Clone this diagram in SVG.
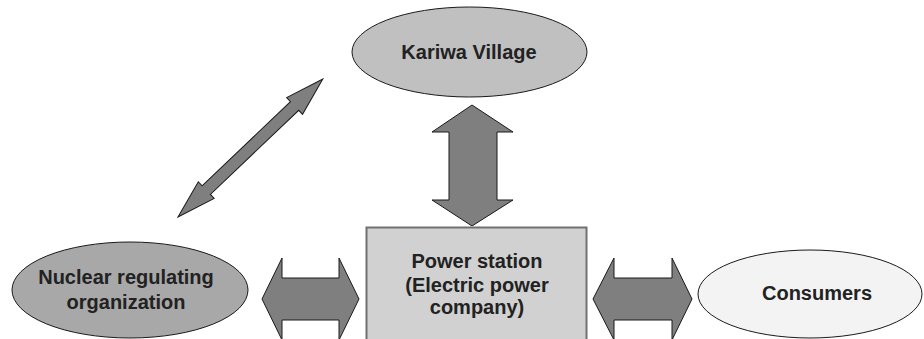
<svg xmlns="http://www.w3.org/2000/svg" width="924" height="339" viewBox="0 0 924 339">
<style>
.lbl{font-family:"Liberation Sans",Arial,sans-serif;font-weight:bold;font-size:20px;fill:#222;text-anchor:middle}
.arr{fill:#7f7f7f;stroke:#1a1a1a;stroke-width:1;stroke-linejoin:miter}
.ell{stroke:#1a1a1a;stroke-width:1}
</style>
<rect width="924" height="339" fill="#fff"/>
<g id="connectors">
<polygon class="arr" transform="translate(178,217) rotate(-43.6)" points="0,0 39,-11.5 39,-6 161,-6 161,-11.5 200,0 161,11.5 161,6 39,6 39,11.5"/>
<polygon class="arr" points="472,105 513,132 497,132 497,200 513,200 472,226 432,200 449,200 449,132 432,132"/>
<polygon class="arr" points="262,299 282,258 282,278 339,278 339,258 359,299 339,340 339,320 282,320 282,340"/>
<polygon class="arr" points="593,299 614,258 614,278 672,278 672,258 692,299 672,340 672,320 614,320 614,340"/>
</g>
<g id="kariwa">
<ellipse class="ell" cx="469.5" cy="52" rx="117.5" ry="45" fill="#c0c0c0"/>
<text class="lbl" x="469" y="59">Kariwa Village</text>
</g>
<g id="power-station">
<rect x="366.5" y="227.5" width="220" height="120" fill="#d1d1d1" stroke="#707070" stroke-width="2"/>
<text class="lbl" x="477" y="268">Power station</text>
<text class="lbl" x="477" y="292">(Electric power</text>
<text class="lbl" x="477" y="314">company)</text>
</g>
<g id="nuclear">
<ellipse class="ell" cx="130" cy="290" rx="118" ry="48" fill="#a8a8a8"/>
<text class="lbl" x="126" y="284">Nuclear regulating</text>
<text class="lbl" x="126" y="309">organization</text>
</g>
<g id="consumers">
<ellipse class="ell" cx="810" cy="294" rx="112" ry="44" fill="#f3f3f3"/>
<text class="lbl" x="817" y="300">Consumers</text>
</g>
</svg>
